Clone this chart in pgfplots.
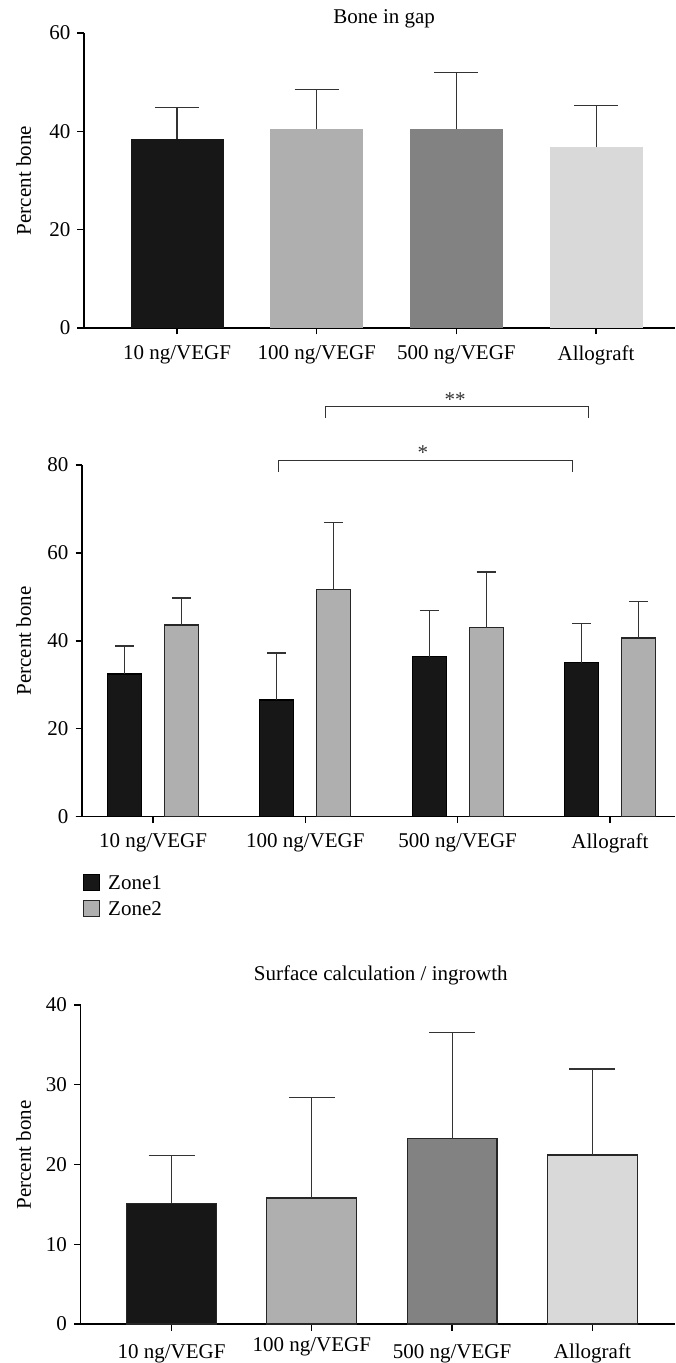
\documentclass[border=0pt]{standalone}
\usepackage{fontspec}
\setmainfont{Liberation Serif}
\usepackage{pgfplots}
\pgfplotsset{compat=1.18}
\definecolor{cA}{HTML}{171717}
\definecolor{cB}{HTML}{AFAFAF}
\definecolor{cC}{HTML}{828282}
\definecolor{cD}{HTML}{D9D9D9}
\definecolor{ecol}{HTML}{333333}
\definecolor{bcol}{HTML}{262626}
\pgfplotsset{
  common/.style={
    scale only axis,
    axis x line*=bottom, axis y line*=left,
    axis line style={line width=0.65pt, black},
    tick align=outside,
    major tick length=3.25pt,
    tick style={line width=0.65pt, black},
    xtick={0,1,2,3},
    xticklabels={10 ng/VEGF,100 ng/VEGF,500 ng/VEGF,Allograft},
    enlarge x limits=false, enlarge y limits=false,
    ymin=0,
    font=\fontsize{10.5}{12.6}\selectfont,
    ticklabel style={font=\fontsize{10.5}{12.6}\selectfont},
    /pgf/number format/assume math mode=true,
    ylabel={Percent bone},
    every axis title shift=0pt,
    clip=false,
  },
  eb/.style={/pgfplots/error bars/.cd, y dir=plus, y explicit, error mark=|,
    error bar style={draw=ecol, line width=0.55pt},
    error mark options={draw=ecol, line width=0.6pt, mark size=#1},
    /pgfplots/.cd},
  sqleg/.style={legend image code/.code={\draw[##1] (0pt,-4pt) rectangle (8pt,4pt);}},
}
\begin{document}
\begin{tikzpicture}
\useasboundingbox (0,0) rectangle (337.5pt,-681.5pt);
% Panel 1
\begin{axis}[common, at={(42pt,-164pt)}, anchor=south west,
  width=295.5pt, height=147.5pt,
  xmin=-0.666, xmax=3.565, ymax=60, ytick={0,20,40,60},
  xticklabel style={yshift=-2pt},
  ylabel style={at={(axis description cs:-0.102,0.5)}, anchor=center},
  title={Bone in gap},
  title style={at={(axis description cs:0.508,1)}, anchor=base, yshift=5pt}]
\draw[line width=0.65pt] ([xshift=-3.25pt]rel axis cs:0,0) -- (rel axis cs:0,0);
\addplot[ybar, bar width=0.666, bar shift=0, fill=cA, draw=none, eb=11pt] coordinates {(0,38.4) +- (0,6.5)};
\addplot[ybar, bar width=0.666, bar shift=0, fill=cB, draw=none, eb=11pt] coordinates {(1,40.45) +- (0,8.1)};
\addplot[ybar, bar width=0.666, bar shift=0, fill=cC, draw=none, eb=11pt] coordinates {(2,40.45) +- (0,11.5)};
\addplot[ybar, bar width=0.666, bar shift=0, fill=cD, draw=none, eb=11pt] coordinates {(3,36.8) +- (0,8.4)};
\end{axis}
% Panel 2
\begin{axis}[common, at={(41pt,-408.35pt)}, anchor=south west,
  width=296.5pt, height=175.85pt,
  xmin=-0.466, xmax=3.427, ymax=80, ytick={0,20,40,60,80},
  xticklabel style={yshift=-1.5pt},
  ylabel style={at={(axis description cs:-0.0983,0.5)}, anchor=center},
  legend style={draw=none, fill=none, at={(axis description cs:0.001,-0.155)}, anchor=north west,
    inner sep=0pt, row sep=2.5pt, column sep=2.5pt,
    nodes={inner sep=1.5pt, text height=7.5pt, text depth=0pt},
    font=\fontsize{10.5}{12.6}\selectfont},
  legend cell align=left]
\draw[line width=0.65pt] ([xshift=-3.25pt]rel axis cs:0,0) -- (rel axis cs:0,0);
\addplot[ybar, bar width=0.223, bar shift=0, fill=cA, draw=black, line width=0.6pt,
  sqleg, eb=4.75pt]
  coordinates {(-0.187,32.45) +- (0,6.37) (0.813,26.54) +- (0,10.69) (1.813,36.4) +- (0,10.54) (2.813,35.03) +- (0,8.95)};
\addlegendentry{Zone1}
\addplot[ybar, bar width=0.223, bar shift=0, fill=cB, draw=bcol, line width=0.6pt,
  sqleg, eb=4.75pt]
  coordinates {(0.187,43.6) +- (0,6.14) (1.187,51.72) +- (0,15.16) (2.187,43.0) +- (0,12.66) (3.187,40.64) +- (0,8.35)};
\addlegendentry{Zone2}
\draw[ecol, line width=0.5pt] (axis cs:1.13,90.8) -- (axis cs:1.13,93.3) -- (axis cs:2.86,93.3) -- (axis cs:2.86,90.8);
\node[anchor=base, text=ecol, inner sep=0pt] at (axis cs:1.983,93.4) {**};
\draw[ecol, line width=0.5pt] (axis cs:0.824,78.5) -- (axis cs:0.824,81.1) -- (axis cs:2.755,81.1) -- (axis cs:2.755,78.5);
\node[anchor=base, text=ecol, inner sep=0pt] at (axis cs:1.771,81.3) {*};
\end{axis}
% Panel 3
\begin{axis}[common, at={(40.25pt,-662pt)}, anchor=south west,
  width=297.25pt, height=159.5pt,
  xmin=-0.649, xmax=3.589, ymax=40, ytick={0,10,20,30,40},
  xticklabels={10 ng/VEGF,\raisebox{3.5pt}{100 ng/VEGF},500 ng/VEGF,Allograft},
  xticklabel style={text height=7.5pt, text depth=2.5pt, yshift=-3pt},
  ylabel style={at={(axis description cs:-0.0955,0.53)}, anchor=center},
  title={Surface calculation / ingrowth},
  title style={at={(axis description cs:0.505,1)}, anchor=base, yshift=12.2pt}]
\draw[line width=0.65pt] ([xshift=-3.25pt]rel axis cs:0,0) -- (rel axis cs:0,0);
\addplot[ybar, bar width=0.641, bar shift=0, fill=cA, draw=bcol, line width=0.6pt, eb=11.5pt] coordinates {(0,15.13) +- (0,5.98)};
\addplot[ybar, bar width=0.641, bar shift=0, fill=cB, draw=bcol, line width=0.6pt, eb=11.5pt] coordinates {(1,15.8) +- (0,12.58)};
\addplot[ybar, bar width=0.641, bar shift=0, fill=cC, draw=bcol, line width=0.6pt, eb=11.5pt] coordinates {(2,23.24) +- (0,13.33)};
\addplot[ybar, bar width=0.641, bar shift=0, fill=cD, draw=bcol, line width=0.6pt, eb=11.5pt] coordinates {(3,21.19) +- (0,10.78)};
\end{axis}
\end{tikzpicture}
\end{document}
